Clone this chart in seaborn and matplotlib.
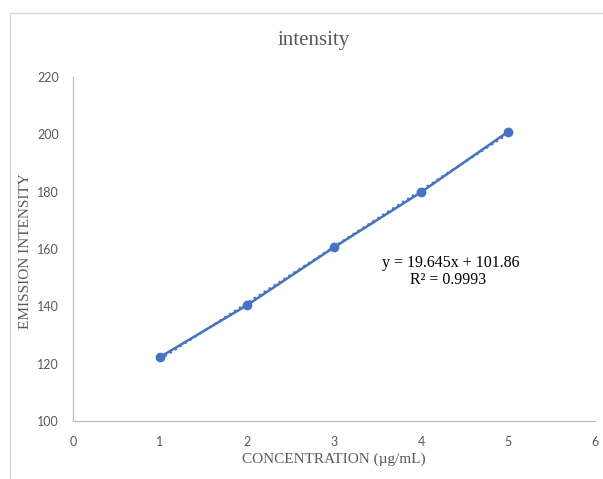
import numpy as np
import pandas as pd
import matplotlib.pyplot as plt
from matplotlib.patches import Rectangle
import seaborn as sns

# Data
concentration = [1, 2, 3, 4, 5]
intensity = [122.3, 140.4, 160.6, 179.8, 200.9]

x_ticks = [0, 1, 2, 3, 4, 5, 6]
y_ticks = [100, 120, 140, 160, 180, 200, 220]

equation_text = 'y = 19.645x + 101.86'
r2_text = 'R² = 0.9993'

df = pd.DataFrame({'conc': concentration, 'intensity': intensity})

BLUE = '#4472C4'
GREY_TEXT = '#595959'

sns.set_theme(style='white')
plt.rcParams['font.family'] = ['Lato', 'DejaVu Sans']

fig = plt.figure(figsize=(6.03, 4.79), dpi=100)
ax = fig.add_axes([73 / 603, 1 - 421 / 479, 522 / 603, 344 / 479])

# Series line with markers
sns.lineplot(data=df, x='conc', y='intensity', ax=ax, color=BLUE,
             marker='o', markersize=7, markeredgewidth=0, linewidth=1.8)

# Linear trendline (dotted)
sns.regplot(data=df, x='conc', y='intensity', ax=ax, scatter=False, ci=None,
            truncate=True, color=BLUE,
            line_kws={'linestyle': ':', 'linewidth': 1.6})

ax.set_xlim(0, 6)
ax.set_ylim(100, 220)
ax.set_xticks(x_ticks)
ax.set_yticks(y_ticks)
ax.tick_params(axis='both', length=0, labelsize=9, labelcolor=GREY_TEXT)
ax.tick_params(axis='y', pad=10)
ax.tick_params(axis='x', pad=11)

for side in ['top', 'right']:
    ax.spines[side].set_visible(False)
for side in ['left', 'bottom']:
    ax.spines[side].set_color('#BFBFBF')
    ax.spines[side].set_linewidth(0.9)

serif = ['Liberation Serif', 'DejaVu Serif']
ax.set_xlabel('CONCENTRATION (µg/mL)', family=serif, fontsize=11,
              color=GREY_TEXT, va='center')
ax.set_ylabel('EMISSION INTENSITY', family=serif, fontsize=11,
              color=GREY_TEXT, va='center')
ax.xaxis.set_label_coords(0.5, (421 - 459) / 344)
ax.yaxis.set_label_coords((26 - 73) / 522, (421 - 251) / 344)

# Trendline equation
ax.text(0.724, 0.459, equation_text, transform=ax.transAxes, family=serif,
        fontsize=11.5, color='black', ha='center', va='center')
ax.text(0.719, 0.410, r2_text, transform=ax.transAxes, family=serif,
        fontsize=11.5, color='black', ha='center', va='center')

fig.text(314 / 603, 1 - 40 / 479, 'intensity', family=serif, fontsize=15,
         color=GREY_TEXT, ha='center', va='center')

# Chart area border
fig.patches.append(Rectangle((10 / 603, -0.1), 1.2, 1 - 13 / 479 + 0.1,
                             transform=fig.transFigure, fill=False,
                             edgecolor='#D9D9D9', linewidth=1.0))

plt.savefig('out.png', dpi=100)
